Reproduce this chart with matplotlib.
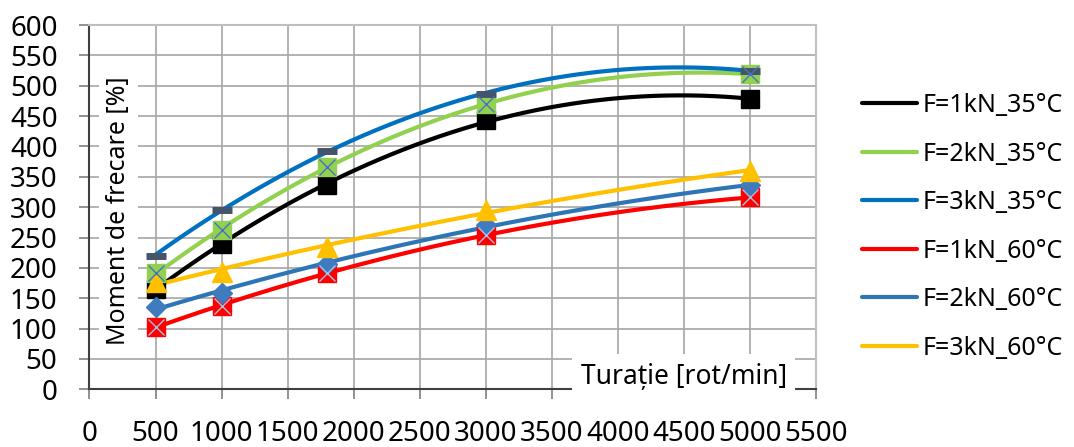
import matplotlib
matplotlib.use("Agg")
import matplotlib.pyplot as plt
import numpy as np

plt.rcParams.update({'font.family': ['Noto Sans', 'DejaVu Sans'], 'font.size': 20})

# speeds [rot/min]
turatie = [500, 1000, 1800, 3000, 5000]

# friction moment [%] per series
f1_35 = [166, 239, 336, 443, 478]
f2_35 = [191, 262, 367, 470, 519]
f3_35 = [220, 296, 393, 486, 525]
f1_60 = [103, 137, 192, 254, 316]
f2_60 = [135, 159, 207, 270, 336]
f3_60 = [176, 194, 234, 295, 360]

labels = ['F=1kN_35°C', 'F=2kN_35°C', 'F=3kN_35°C',
          'F=1kN_60°C', 'F=2kN_60°C', 'F=3kN_60°C']
series = [f1_35, f2_35, f3_35, f1_60, f2_60, f3_60]
line_colors = ['#000000', '#92D050', '#0070C0', '#FF0000', '#2E75B6', '#FFC000']

fig = plt.figure(figsize=(10.74, 4.47), dpi=100)
ax = fig.add_axes([0.0833, 0.129, 0.6765, 0.815])

x = np.array(turatie, dtype=float)
xs = np.linspace(x.min(), x.max(), 200)

handles = []
for vals, col, lab in zip(series, line_colors, labels):
    # Excel-style 2nd order polynomial trendline
    coef = np.polyfit(x, vals, 2)
    h, = ax.plot(xs, np.polyval(coef, xs), color=col, lw=3, zorder=4,
                 solid_capstyle='round', label=lab)
    handles.append(h)

# markers
ax.plot(x, f1_35, ls='none', marker='s', ms=13, color='black', zorder=5)
ax.plot(x, f2_35, ls='none', marker='s', ms=13, color='#92D050', zorder=5)
ax.plot(x, f2_35, ls='none', marker='x', ms=12, mew=1, color='#4472C4', zorder=6)
ax.plot(x, f3_35, ls='none', marker='_', ms=15, mew=5, color='#44546A', zorder=5)
ax.plot(x, f1_60, ls='none', marker='s', ms=13, color='#FF0000', zorder=5)
ax.plot(x, f1_60, ls='none', marker='x', ms=12, mew=1, color='#9DC3E6', zorder=6)
ax.plot(x, f2_60, ls='none', marker='D', ms=10, color='#3F7CBF', zorder=5)
ax.plot(x, f3_60, ls='none', marker='^', ms=14, color='#FFC000', zorder=5)

ax.set_xlim(0, 5500)
ax.set_ylim(0, 600)
ax.set_xticks(np.arange(0, 5501, 500))
ax.set_yticks(np.arange(0, 601, 50))
ax.grid(True, color='#A6A6A6', lw=1.2)
ax.set_axisbelow(True)
ax.tick_params(axis='x', length=7, width=1.2, color='#7F7F7F', pad=15, labelsize=20)
ax.tick_params(axis='y', length=7, width=1.2, color='#7F7F7F', pad=16, labelsize=20)
for side in ['left', 'bottom']:
    ax.spines[side].set_color('#404040')
    ax.spines[side].set_linewidth(1.5)
for side in ['top', 'right']:
    ax.spines[side].set_color('#BFBFBF')
    ax.spines[side].set_linewidth(1.5)

# axis titles placed inside the plot with white boxes
ax.text(0.040, 0.49, 'Moment de frecare [%]', transform=ax.transAxes, rotation=90,
        ha='center', va='center', fontsize=18, zorder=3,
        bbox=dict(facecolor='white', edgecolor='none', pad=5))
ax.text(0.818, 0.035, 'Turație [rot/min]', transform=ax.transAxes,
        ha='center', va='center', fontsize=19, zorder=7, clip_on=False,
        bbox=dict(facecolor='white', edgecolor='none', pad=6))

fig.legend(handles=handles, loc='upper left', bbox_to_anchor=(0.782, 0.842),
           frameon=False, handlelength=2.2, handletextpad=0.2,
           labelspacing=0.94, fontsize=18)

plt.savefig('out.png', dpi=100)
plt.close()
